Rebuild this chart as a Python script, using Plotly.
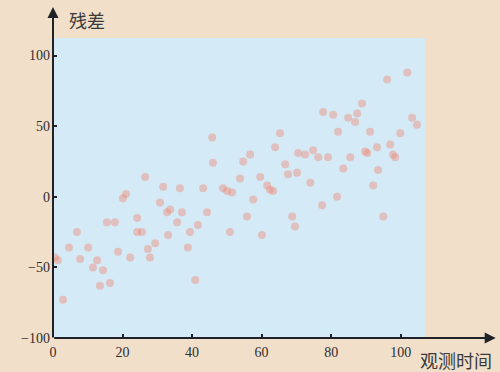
import plotly.graph_objects as go

# Residuals against observation time
obs_time = [0.6, 1.4, 2.9, 4.6, 6.9, 7.8, 10.1, 12.7, 11.5, 14.4, 13.5, 16.4, 15.5, 17.8,
            18.7, 20.1, 21.0, 22.2, 24.2, 24.2, 25.6, 26.5, 27.3, 27.9, 29.4, 30.8, 31.7,
            32.8, 33.7, 33.1, 35.7, 37.1, 36.5, 39.4, 38.8, 40.9, 41.7, 43.2, 44.3, 45.8,
            46.0, 48.9, 50.1, 51.5, 50.9, 53.8, 54.7, 55.8, 56.7, 57.6, 59.6, 60.1, 61.6,
            62.4, 63.3, 63.9, 65.3, 66.8, 67.6, 68.8, 69.6, 70.5, 70.2, 72.5, 74.0, 74.8,
            76.3, 77.4, 77.7, 79.1, 80.6, 81.7, 82.0, 83.5, 84.9, 85.5, 86.9, 87.5, 88.9,
            90.4, 91.2, 92.1, 93.2, 93.5, 95.0, 96.1, 97.0, 97.8, 98.4, 99.9, 101.9, 103.3,
            104.7, 89.8]
residual = [-43, -45, -73, -36, -25, -44, -36, -45, -50, -52, -63, -61, -18, -18,
            -39, -1, 2, -43, -15, -25, -25, 14, -37, -43, -33, -4, 7,
            -11, -9, -27, -18, -11, 6, -25, -36, -59, -20, 6, -11, 42,
            24, 6, 4, 3, -25, 13, 25, -14, 30, -2, 14, -27, 8,
            5, 4, 35, 45, 23, 16, -14, -21, 31, 17, 30, 10, 33,
            28, -6, 60, 28, 58, 0, 46, 20, 56, 28, 53, 59, 66,
            31, 46, 8, 35, 19, -14, 83, 37, 30, 28, 45, 88, 56,
            51, 32]

x_ticks = [0, 20, 40, 60, 80, 100]
y_ticks = [-100, -50, 0, 50, 100]
x_title = "观测时间"
y_title = "残差"

tick_font = dict(family="Liberation Serif, DejaVu Serif, serif", size=14, color="#2e2e2e")
cjk_font = dict(family="Noto Sans CJK SC, sans-serif", size=18, color="#3a3a3a")
axis_color = "#1f2328"

fig = go.Figure(
    go.Scatter(
        x=obs_time,
        y=residual,
        mode="markers",
        marker=dict(size=8, color="rgba(238,140,120,0.45)",
                    line=dict(width=0)),
        hoverinfo="skip",
    )
)

fig.update_layout(
    width=500,
    height=372,
    margin=dict(l=53, r=75, t=38, b=34),
    paper_bgcolor="#f1dfca",
    plot_bgcolor="#d4ebf7",
    showlegend=False,
    xaxis=dict(
        range=[0, 107], tickvals=x_ticks, ticks="inside", ticklen=4, tickwidth=2,
        tickcolor=axis_color, showgrid=False, zeroline=False, showline=False,
        tickfont=tick_font, ticklabelstandoff=4, fixedrange=True,
    ),
    yaxis=dict(
        range=[-100, 112.4], tickvals=y_ticks, ticks="inside", ticklen=4, tickwidth=2,
        tickcolor=axis_color, showgrid=False, zeroline=False, showline=False,
        tickfont=tick_font, ticklabelstandoff=2, fixedrange=True,
    ),
    annotations=[
        # x axis with arrow head
        dict(xref="paper", yref="paper", x=1.19, y=0, ax=-443, ay=0,
             axref="pixel", ayref="pixel", showarrow=True, arrowhead=2,
             arrowsize=1.1, arrowwidth=2, arrowcolor=axis_color, text=""),
        # y axis with arrow head
        dict(xref="paper", yref="paper", x=0, y=1.103, ax=0, ay=332,
             axref="pixel", ayref="pixel", showarrow=True, arrowhead=2,
             arrowsize=1.1, arrowwidth=2, arrowcolor=axis_color, text=""),
        dict(xref="paper", yref="paper", x=0.091, y=1.06, text=y_title,
             xanchor="center", yanchor="middle", showarrow=False, font=cjk_font),
        dict(xref="paper", yref="paper", x=1.083, y=-0.072, text=x_title,
             xanchor="center", yanchor="middle", showarrow=False, font=cjk_font),
    ],
)

fig.write_html("out.html")
